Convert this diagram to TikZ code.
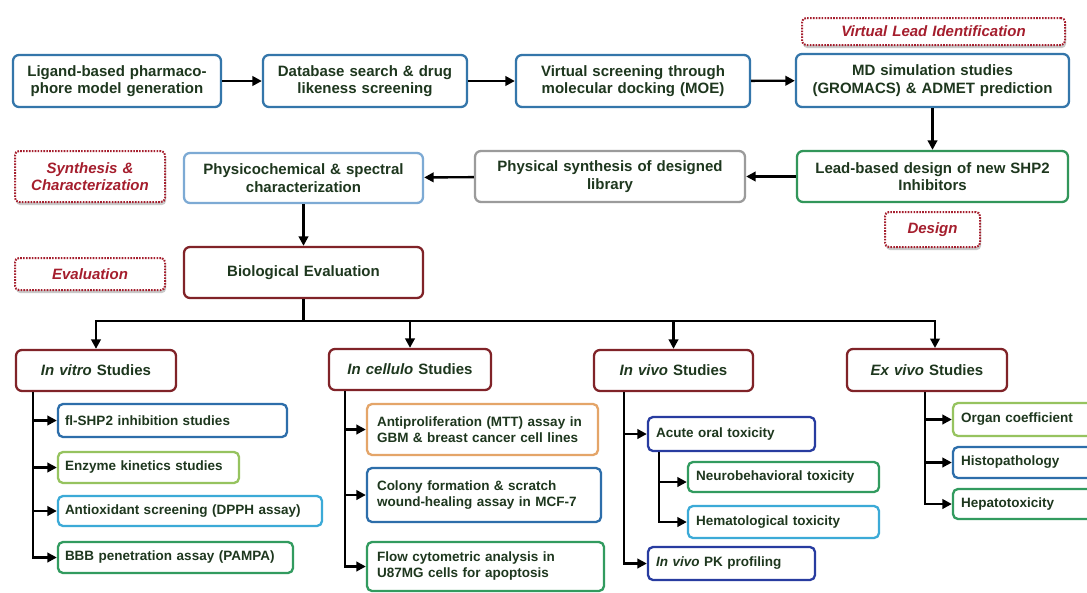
\documentclass[tikz,border=0pt]{standalone}
\usepackage{fontspec}
\setmainfont{Liberation Sans}
\usetikzlibrary{arrows.meta,shadows}
\definecolor{textc}{RGB}{30,55,30}
\definecolor{topblue}{RGB}{52,118,170}
\definecolor{ltblue}{RGB}{125,170,212}
\definecolor{grayb}{RGB}{155,155,155}
\definecolor{leadgreen}{RGB}{50,150,90}
\definecolor{darkred}{RGB}{128,35,40}
\definecolor{labred}{RGB}{165,30,45}
\definecolor{subblue}{RGB}{45,110,170}
\definecolor{ltgreen}{RGB}{150,195,95}
\definecolor{cyanb}{RGB}{60,170,215}
\definecolor{greenb}{RGB}{50,155,95}
\definecolor{orangeb}{RGB}{228,165,105}
\definecolor{navyb}{RGB}{40,60,160}
\tikzset{
  box/.style={draw, rounded corners=6pt, line width=2.3pt, fill=white, text=textc,
    font=\fontsize{15}{17.5}\selectfont\bfseries, align=center, inner ysep=2pt},
  subbox/.style={box, font=\fontsize{13.5}{16}\selectfont\bfseries, align=left, rounded corners=5pt},
  tag/.style={draw=labred, dash pattern=on 1.6pt off 1.3pt, line width=2pt, rounded corners=4pt,
    fill=white, text=labred, font=\fontsize{15}{17.5}\selectfont\bfseries\itshape, align=center,
    inner ysep=2pt, drop shadow={shadow xshift=1pt, shadow yshift=-3pt, opacity=0.35, fill=black!60}},
  arr/.style={line width=2.4pt, -{Triangle[length=9.5pt,width=9.5pt]}},
  ln/.style={line width=2.4pt},
}
% name, x1, y1, x2, y2, style, xsep, text
\newcommand\bx[8]{%
  \pgfmathsetmacro\bxtw{#4-#2-2*#7}%
  \pgfmathsetmacro\bxh{#5-#3}%
  \pgfmathsetmacro\bxcx{(#2+#4)/2}%
  \pgfmathsetmacro\bxcy{(#3+#5)/2}%
  \node[#6, inner xsep=#7pt, text width=\bxtw pt, minimum height=\bxh pt] (#1) at (\bxcx,\bxcy) {#8};}
\begin{document}
\begin{tikzpicture}[x=1pt,y=-1pt]
\useasboundingbox (0,0) rectangle (1087,592);
\clip (0,0) rectangle (1087,592);
\fill[white] (0,0) rectangle (1087,592);
% top row
\bx{b1}{13}{55}{221}{107}{box, draw=topblue}{3}{Ligand-based pharmaco-\\phore model generation}
\bx{b2}{263}{55}{467}{107}{box, draw=topblue}{3}{Database search \& drug\\likeness screening}
\bx{b3}{516}{55}{750}{107}{box, draw=topblue}{3}{Virtual screening through\\molecular docking (MOE)}
\bx{b4}{796}{54}{1069}{107}{box, draw=topblue}{3}{MD simulation studies\\(GROMACS) \& ADMET prediction}
\bx{vli}{802}{18}{1065}{45}{tag}{3}{Virtual Lead Identification}
\draw[arr] (b1) -- (b2);
\draw[arr] (b2) -- (b3);
\draw[arr] (b3) -- (b4);
% second row
\bx{lead}{797}{151}{1068}{202}{box, draw=leadgreen}{3}{Lead-based design of new SHP2\\Inhibitors}
\bx{design}{885}{212}{980}{247}{tag}{3}{Design}
\bx{phys}{475}{151}{745}{202}{box, draw=grayb}{3}{Physical synthesis of designed\\library}
\bx{pc}{184}{153}{423}{203}{box, draw=ltblue}{3}{Physicochemical \& spectral\\characterization}
\bx{synth}{15}{151}{165}{202}{tag}{3}{Synthesis \&\\Characterization}
\draw[arr] (b4.south) -- (lead.north);
\draw[arr] (lead) -- (phys);
\draw[arr] (phys) -- (pc);
% evaluation
\bx{bio}{184}{247}{423}{298}{box, draw=darkred}{3}{Biological Evaluation}
\bx{eval}{15}{258}{165}{290}{tag}{3}{Evaluation}
\draw[arr] (pc.south) -- (bio.north);
% column headers
\bx{iv}{16}{350}{176}{391}{box, draw=darkred}{3}{\textit{In vitro} Studies}
\bx{ic}{329}{349}{491}{390}{box, draw=darkred}{3}{\textit{In cellulo} Studies}
\bx{ivv}{594}{350}{753}{391}{box, draw=darkred}{3}{\textit{In vivo} Studies}
\bx{ev}{847}{349}{1007}{391}{box, draw=darkred}{3}{\textit{Ex vivo} Studies}
\coordinate (bus) at (303.5,321);
\coordinate (evin) at (935,348);
\draw[ln] (bio.south) -- (bus);
\draw[arr] (bus) -| (iv.north);
\draw[arr] (bus) -| (ic.north);
\draw[arr] (bus) -| (ivv.north);
\draw[arr] (bus) -| (evin);
% in vitro
\bx{v1}{58}{404}{287}{437}{subbox, draw=subblue}{7}{fl-SHP2 inhibition studies}
\bx{v2}{58}{452}{239}{483}{subbox, draw=ltgreen}{7}{Enzyme kinetics studies}
\bx{v3}{58}{496}{322}{526}{subbox, draw=cyanb}{7}{Antioxidant screening (DPPH assay)}
\bx{v4}{58}{542}{293}{573}{subbox, draw=greenb}{7}{BBB penetration assay (PAMPA)}
\foreach \t in {v1,v2,v3,v4} \draw[arr] ([xshift=18pt]iv.south west) |- (\t.west);
% in cellulo
\bx{c1}{367}{404}{598}{455}{subbox, draw=orangeb}{10}{Antiproliferation (MTT) assay in\\GBM \& breast cancer cell lines}
\bx{c2}{367}{468}{601}{522}{subbox, draw=subblue}{10}{Colony formation \& scratch\\wound-healing assay in MCF-7}
\bx{c3}{367}{542}{604}{591}{subbox, draw=greenb}{10}{Flow cytometric analysis in\\U87MG cells for apoptosis}
\foreach \t in {c1,c2,c3} \draw[arr] ([xshift=17pt]ic.south west) |- (\t.west);
% in vivo
\bx{a1}{648}{417}{815}{451}{subbox, draw=navyb}{8}{Acute oral toxicity}
\bx{n1}{688}{462}{879}{492}{subbox, draw=greenb}{8}{Neurobehavioral toxicity}
\bx{h1}{688}{506}{879}{538}{subbox, draw=cyanb}{8}{Hematological toxicity}
\bx{pk}{648}{547}{815}{580}{subbox, draw=navyb}{8}{\textit{In vivo} PK profiling}
\draw[arr] ([xshift=31pt]ivv.south west) |- (a1.west);
\draw[arr] ([xshift=31pt]ivv.south west) |- (pk.west);
\draw[arr] ([xshift=12pt]a1.south west) |- ([yshift=-5pt]n1.west);
\draw[arr] ([xshift=12pt]a1.south west) |- (h1.west);
% ex vivo
\bx{o1}{953}{403}{1100}{436}{subbox, draw=ltgreen}{8}{Organ coefficient}
\bx{o2}{953}{447}{1100}{478}{subbox, draw=subblue}{8}{Histopathology}
\bx{o3}{953}{489}{1100}{519}{subbox, draw=greenb}{8}{Hepatotoxicity}
\foreach \t in {o1,o2,o3} \draw[arr] ([xshift=79pt]ev.south west) |- (\t.west);
\end{tikzpicture}
\end{document}
